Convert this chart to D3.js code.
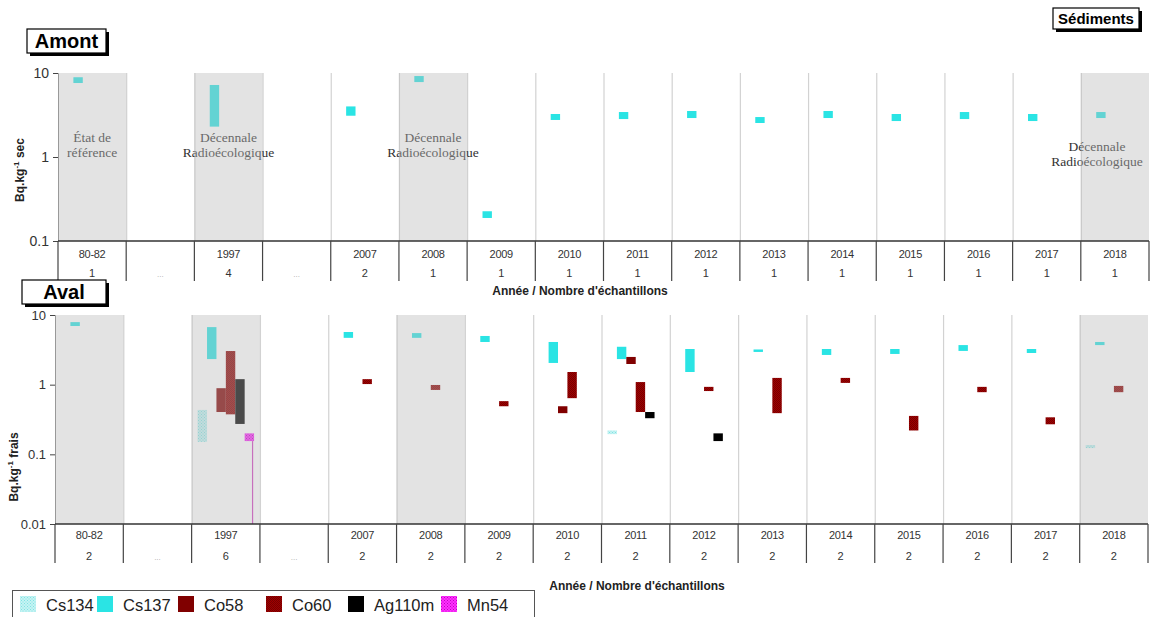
<!DOCTYPE html>
<html>
<head>
<meta charset="utf-8">
<script src="https://cdn.jsdelivr.net/npm/d3@7"></script>
<style>
  body { margin: 0; background: #fff; }
  svg { display: block; }
</style>
</head>
<body>
<svg id="chart" width="1156" height="617"></svg>
<script>
// ---- Data -------------------------------------------------------------
const columns = ["80-82", "gapA", "1997", "gapB", "2007", "2008", "2009", "2010",
                 "2011", "2012", "2013", "2014", "2015", "2016", "2017", "2018"];
const yearLabels = ["80-82", "", "1997", "", "2007", "2008", "2009", "2010",
                    "2011", "2012", "2013", "2014", "2015", "2016", "2017", "2018"];
const amontCounts = ["1", "...", "4", "...", "2", "1", "1", "1", "1", "1", "1", "1", "1", "1", "1", "1"];
const avalCounts  = ["2", "...", "6", "...", "2", "2", "2", "2", "2", "2", "2", "2", "2", "2", "2", "2"];
const shadedColumns = ["80-82", "1997", "2008", "2018"];
const species = ["Cs134", "Cs137", "Co58", "Co60", "Ag110m", "Mn54"];

// Ranges [column, min, max] in Bq/kg
const amontCs137 = [
  ["80-82", 7.6, 8.9], ["1997", 2.3, 7.2], ["2007", 3.1, 4.0], ["2008", 7.8, 9.2],
  ["2009", 0.188, 0.226], ["2010", 2.76, 3.25], ["2011", 2.83, 3.43], ["2012", 2.91, 3.53],
  ["2013", 2.54, 2.99], ["2014", 2.91, 3.53], ["2015", 2.68, 3.25], ["2016", 2.83, 3.43],
  ["2017", 2.68, 3.25], ["2018", 2.91, 3.43]
];
const avalCs134 = [["1997", 0.151, 0.434], ["2011", 0.195, 0.22], ["2018", 0.123, 0.136]];
const avalCs137 = [
  ["80-82", 6.95, 7.9], ["1997", 2.33, 6.7], ["2007", 4.7, 5.7], ["2008", 4.7, 5.5],
  ["2009", 4.1, 5.0], ["2010", 2.05, 4.1], ["2011", 2.33, 3.5], ["2012", 1.52, 3.25],
  ["2013", 2.95, 3.2], ["2014", 2.67, 3.25], ["2015", 2.76, 3.25], ["2016", 3.05, 3.7],
  ["2017", 2.85, 3.25], ["2018", 3.7, 4.1]
];
const avalCo58 = [["1997", 0.405, 0.89], ["2010", 0.39, 0.49], ["2011", 1.98, 2.5]];
const avalCo60 = [
  ["1997", 0.375, 3.04], ["2007", 1.02, 1.2], ["2008", 0.84, 0.99], ["2009", 0.49, 0.58],
  ["2010", 0.64, 1.52], ["2011", 0.405, 1.09], ["2012", 0.81, 0.93], ["2013", 0.39, 1.25],
  ["2014", 1.06, 1.25], ["2015", 0.22, 0.356], ["2016", 0.78, 0.93], ["2017", 0.27, 0.34],
  ["2018", 0.78, 0.96]
];
const avalAg110m = [["1997", 0.273, 1.2], ["2011", 0.33, 0.405], ["2012", 0.155, 0.2]];
const avalMn54 = [["1997", 0.155, 0.2]];
const avalMn54Stem = [["1997", 0.01, 0.155]];

const annotations = [
  ["80-82", ["État de", "référence"]],
  ["1997", ["Décennale", "Radioécologique"]],
  ["2008", ["Décennale", "Radioécologique"]],
  ["2018", ["Décennale", "Radioécologique"]]
];
const amontTicks = [0.1, 1, 10];
const avalTicks = [0.01, 0.1, 1, 10];

// ---- Styles -------------------------------------------------------------
const svg = d3.select("#chart");
svg.append("rect").attr("width", 1156).attr("height", 617).attr("fill", "#fff");

const defs = svg.append("defs");
function dotPattern(id, bg, fg, size) {
  const p = defs.append("pattern").attr("id", id).attr("patternUnits", "userSpaceOnUse")
    .attr("width", size).attr("height", size);
  p.append("rect").attr("width", size).attr("height", size).attr("fill", bg);
  p.append("rect").attr("width", 1).attr("height", 1).attr("fill", fg);
  p.append("rect").attr("x", size / 2).attr("y", size / 2).attr("width", 1).attr("height", 1).attr("fill", fg);
}
dotPattern("pat-cs134", "#c6f3f3", "#7fe3e3", 3);
dotPattern("pat-co60", "#a00000", "#760000", 2);
dotPattern("pat-mn54", "#ff30ff", "#c000c0", 3);

const fills = {
  Cs134: "url(#pat-cs134)", Cs137: "#2ae4e4", Co58: "#800000",
  Co60: "url(#pat-co60)", Ag110m: "#000000", Mn54: "url(#pat-mn54)"
};
const sans = "Liberation Sans, Arial, sans-serif";
const serif = "Liberation Serif, Times New Roman, serif";

// ---- Panels --------------------------------------------------------------
function drawPanel(cfg) {
  const g = svg.append("g");
  const x = d3.scaleBand().domain(columns).range([cfg.left, cfg.right]);
  const y = d3.scaleLog().domain(cfg.domain).range([cfg.bottom, cfg.top]);
  const xs = d3.scaleBand().domain(species)
    .range([x.bandwidth() * 0.088, x.bandwidth() * 0.914]);

  // light column separators
  g.append("g").selectAll("line").data(columns.slice(1)).join("line")
    .attr("x1", d => x(d) + 0.5).attr("x2", d => x(d) + 0.5)
    .attr("y1", cfg.top).attr("y2", cfg.bottom)
    .attr("stroke", "#d2d2d2").attr("stroke-width", 1.2);

  // range bars
  const marks = g.append("g");
  cfg.series.forEach(([sp, data]) => {
    marks.append("g").selectAll("rect").data(data).join("rect")
      .attr("x", d => x(d[0]) + xs(sp))
      .attr("width", xs.bandwidth())
      .attr("y", d => y(d[2]))
      .attr("height", d => Math.max(2, y(d[1]) - y(d[2])))
      .attr("fill", fills[sp]);
  });
  (cfg.stems || []).forEach(([sp, data]) => {
    marks.append("g").selectAll("line").data(data).join("line")
      .attr("x1", d => x(d[0]) + xs(sp) + xs.bandwidth() - 1.5)
      .attr("x2", d => x(d[0]) + xs(sp) + xs.bandwidth() - 1.5)
      .attr("y1", d => y(d[2])).attr("y2", d => y(d[1]))
      .attr("stroke", "#d040c0").attr("stroke-width", 1.2);
  });

  // annotations (under the shaded overlay)
  if (cfg.annotations) {
    const shift = { "2018": [-18, 9] };
    cfg.annotations.forEach(([col, lines]) => {
      const [dx, dy] = shift[col] || [0, 0];
      const t = g.append("text")
        .attr("x", x(col) + x.bandwidth() / 2 + dx)
        .attr("y", 142 + dy)
        .attr("text-anchor", "middle")
        .attr("font-family", serif).attr("font-size", 13.5).attr("fill", "#333");
      lines.forEach((l, i) => t.append("tspan")
        .attr("x", x(col) + x.bandwidth() / 2 + dx)
        .attr("dy", i === 0 ? 0 : 15).text(l));
    });
  }

  // shaded reference columns, laid over marks and text
  g.append("g").selectAll("rect").data(shadedColumns).join("rect")
    .attr("x", d => x(d)).attr("width", x.bandwidth())
    .attr("y", cfg.top).attr("height", cfg.bottom - cfg.top)
    .attr("fill", "#b9b9b9").attr("fill-opacity", 0.4);

  // y axis
  const ax = g.append("g").attr("transform", `translate(${cfg.left},0)`)
    .call(d3.axisLeft(y).tickValues(cfg.ticks).tickFormat(d => String(d))
      .tickSize(5).tickPadding(4));
  ax.select(".domain").attr("stroke", "#999");
  ax.selectAll(".tick line").attr("stroke", "#444");
  ax.selectAll(".tick text").attr("font-family", sans)
    .attr("font-size", cfg.tickFont).attr("fill", "#333");

  // baseline and table
  g.append("line").attr("x1", cfg.left).attr("x2", cfg.right)
    .attr("y1", cfg.bottom).attr("y2", cfg.bottom)
    .attr("stroke", "#333").attr("stroke-width", 1.3);
  const bounds = columns.map(c => x(c)).concat([cfg.right]);
  g.append("g").selectAll("line").data(bounds).join("line")
    .attr("x1", d => d).attr("x2", d => d)
    .attr("y1", cfg.bottom).attr("y2", cfg.bottom + cfg.tableH)
    .attr("stroke", "#444").attr("stroke-width", 1.2);
  g.append("g").selectAll("text").data(columns).join("text")
    .attr("x", d => x(d) + x.bandwidth() / 2)
    .attr("y", cfg.bottom + cfg.row1)
    .attr("text-anchor", "middle").attr("font-family", sans)
    .attr("font-size", 11).attr("fill", "#333").attr("letter-spacing", -0.3)
    .text((d, i) => yearLabels[i]);
  g.append("g").selectAll("text").data(columns).join("text")
    .attr("x", d => x(d) + x.bandwidth() / 2)
    .attr("y", cfg.bottom + cfg.row2)
    .attr("text-anchor", "middle").attr("font-family", sans)
    .attr("font-size", (d, i) => cfg.counts[i] === "..." ? 8 : 11)
    .attr("fill", (d, i) => cfg.counts[i] === "..." ? "#aaa" : "#333")
    .text((d, i) => cfg.counts[i]);

  // x title
  g.append("text").attr("x", cfg.xTitleX).attr("y", cfg.xTitleY)
    .attr("text-anchor", "middle").attr("font-family", sans)
    .attr("font-weight", "bold").attr("font-size", cfg.xTitleFont).attr("fill", "#222")
    .text(cfg.xTitle);

  // y title with superscript
  const yt = g.append("text")
    .attr("transform", `translate(${cfg.yTitleX},${cfg.yTitleY}) rotate(-90)`)
    .attr("text-anchor", "middle").attr("font-family", sans)
    .attr("font-weight", "bold").attr("font-size", 12).attr("fill", "#222");
  yt.append("tspan").text("Bq.kg");
  yt.append("tspan").attr("dy", -5).attr("font-size", 8).text("-1");
  yt.append("tspan").attr("dy", 5).text(" " + cfg.unit);
}

drawPanel({
  left: 58, right: 1149, top: 73, bottom: 241, domain: [0.1, 10], ticks: amontTicks,
  tickFont: 14, series: [["Cs137", amontCs137]], annotations: annotations,
  tableH: 40, row1: 17, row2: 36, counts: amontCounts,
  xTitle: "Année / Nombre d'échantillons", xTitleX: 580, xTitleY: 295, xTitleFont: 12,
  yTitleX: 24, yTitleY: 170, unit: "sec"
});

drawPanel({
  left: 55, right: 1148, top: 315, bottom: 524, domain: [0.01, 10], ticks: avalTicks,
  tickFont: 13,
  series: [["Cs134", avalCs134], ["Cs137", avalCs137], ["Co58", avalCo58],
           ["Co60", avalCo60], ["Ag110m", avalAg110m], ["Mn54", avalMn54]],
  stems: [["Mn54", avalMn54Stem]],
  tableH: 39, row1: 15, row2: 36, counts: avalCounts,
  xTitle: "Année  / Nombre d'échantillons", xTitleX: 637, xTitleY: 590, xTitleFont: 12,
  yTitleX: 18, yTitleY: 467, unit: "frais"
});

// ---- Title boxes ----------------------------------------------------------
function titleBox(label, bx, by, bw, bh, fs) {
  const g = svg.append("g");
  g.append("rect").attr("x", bx + 3).attr("y", by + 3).attr("width", bw).attr("height", bh).attr("fill", "#000");
  g.append("rect").attr("x", bx).attr("y", by).attr("width", bw).attr("height", bh)
    .attr("fill", "#fff").attr("stroke", "#000").attr("stroke-width", 1.2);
  g.append("text").attr("x", bx + bw / 2).attr("y", by + bh / 2 + fs * 0.36)
    .attr("text-anchor", "middle").attr("font-family", sans).attr("font-weight", "bold")
    .attr("font-size", fs).attr("fill", "#000").text(label);
}
titleBox("Amont", 27, 29, 79, 24, 20);
titleBox("Aval", 22, 280, 84, 24, 20);
titleBox("Sédiments", 1053, 8, 86, 21, 15);

// ---- Legend ----------------------------------------------------------------
const legendX = [20, 97, 178, 266, 348, 441];
const lg = svg.append("g");
lg.append("rect").attr("x", 12.5).attr("y", 590.5).attr("width", 522).attr("height", 32)
  .attr("fill", "#fff").attr("stroke", "#555").attr("stroke-width", 1);
species.forEach((sp, i) => {
  lg.append("rect").attr("x", legendX[i]).attr("y", 596).attr("width", 16).attr("height", 16)
    .attr("fill", fills[sp]);
  lg.append("text").attr("x", legendX[i] + 26).attr("y", 611)
    .attr("font-family", sans).attr("font-size", 16.5).attr("fill", "#222").text(sp);
});
</script>
</body>
</html>
